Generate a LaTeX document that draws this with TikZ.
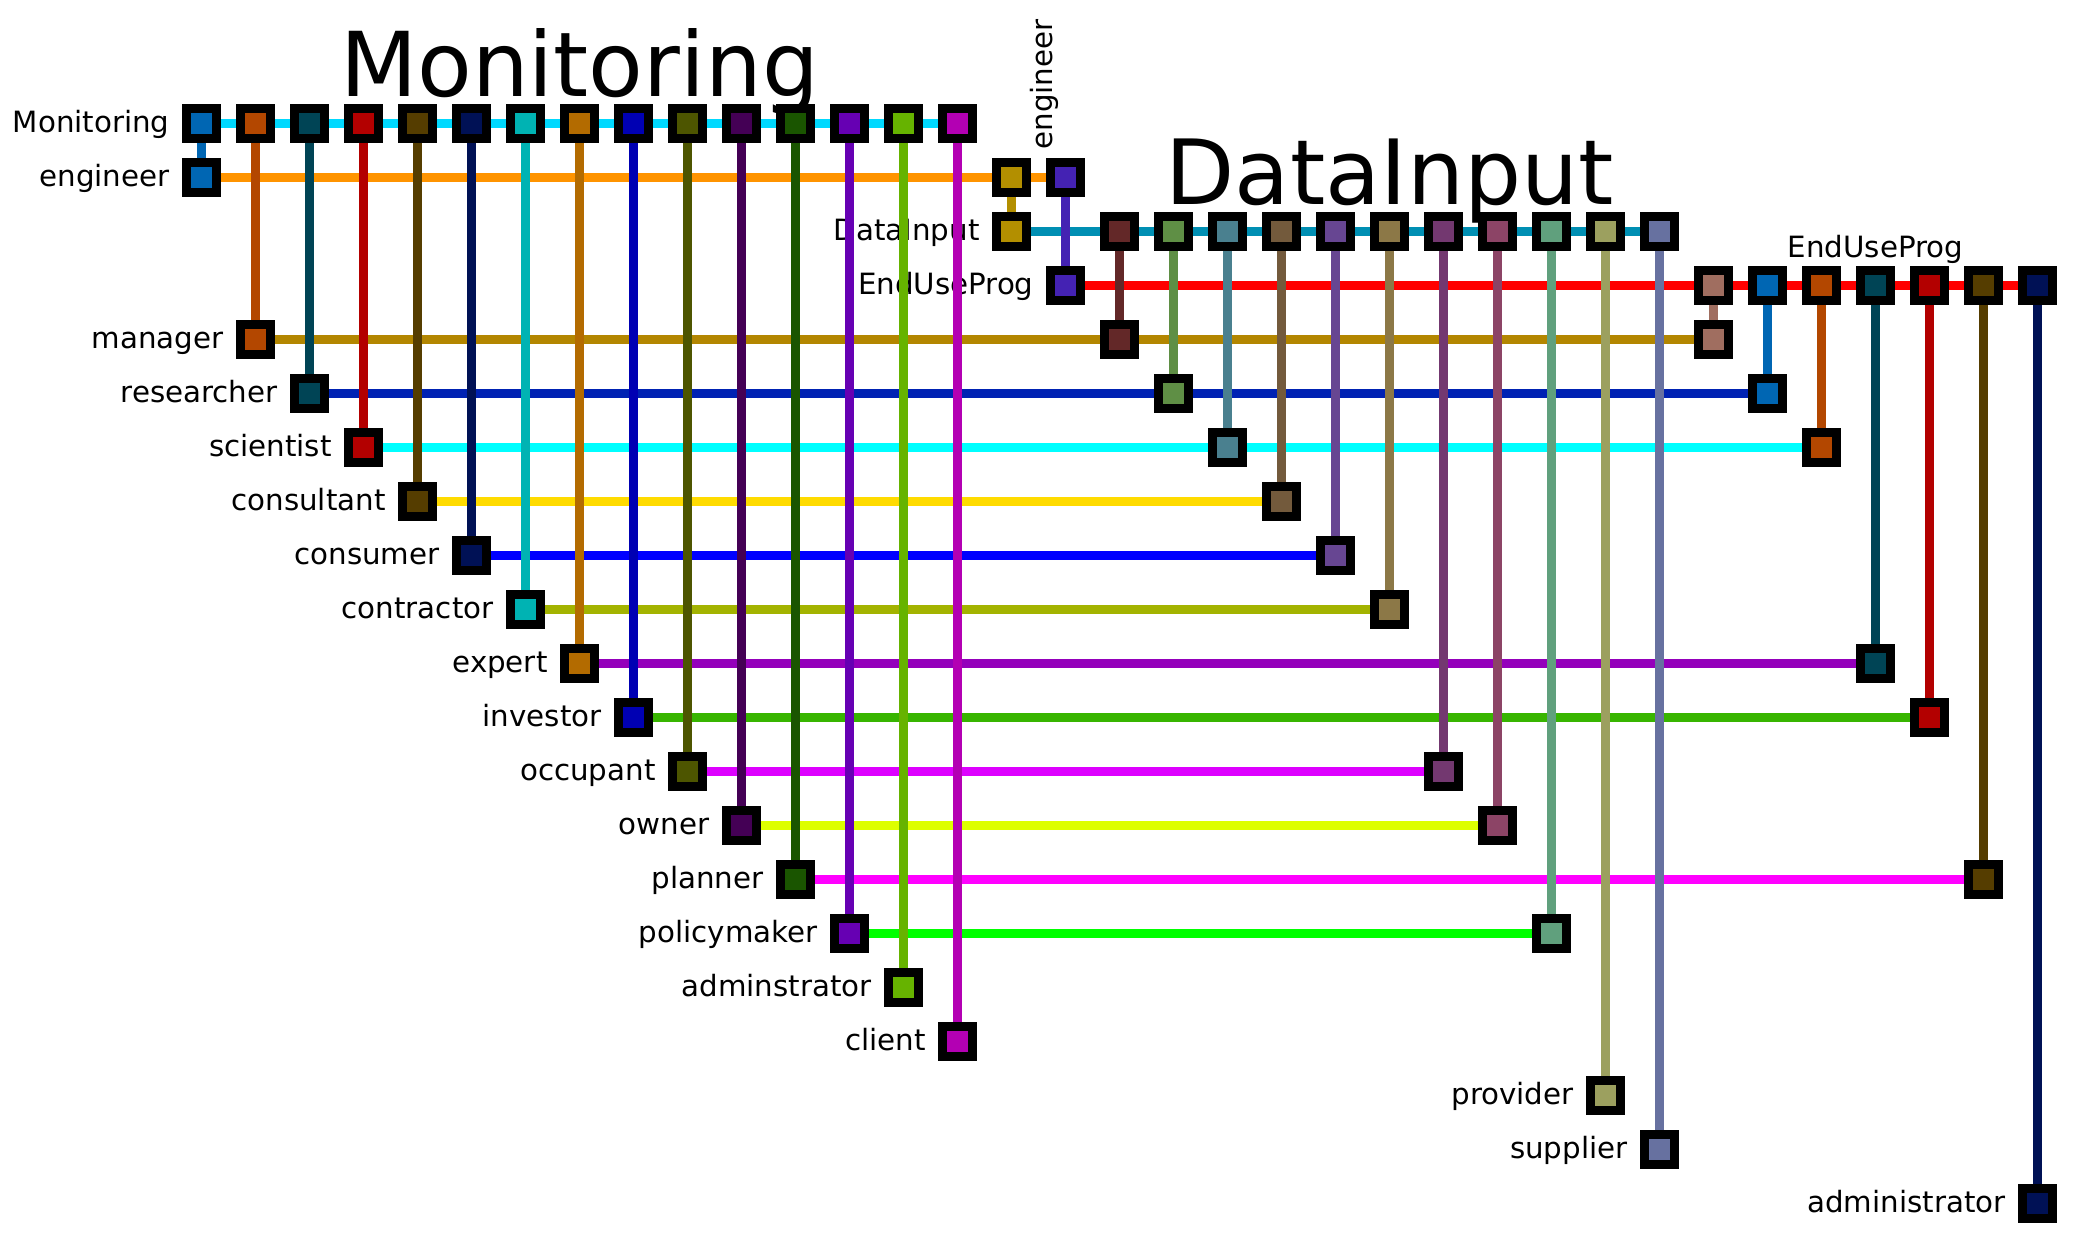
\documentclass[tikz,border=0pt]{standalone}
\usepackage{fontspec}
\setmainfont{DejaVu Sans}
\pgfdeclarelayer{txt}
\pgfdeclarelayer{hl}
\pgfdeclarelayer{vl}
\pgfsetlayers{txt,hl,vl,main}
\definecolor{k0}{HTML}{0066B3}
\definecolor{k1}{HTML}{B34700}
\definecolor{k2}{HTML}{004455}
\definecolor{k3}{HTML}{B30000}
\definecolor{k4}{HTML}{553D00}
\definecolor{k5}{HTML}{001155}
\definecolor{k6}{HTML}{00B3B3}
\definecolor{k7}{HTML}{B36B00}
\definecolor{k8}{HTML}{0000B3}
\definecolor{k9}{HTML}{4D5500}
\definecolor{k10}{HTML}{440055}
\definecolor{k11}{HTML}{1A5500}
\definecolor{k12}{HTML}{6600B3}
\definecolor{k13}{HTML}{66B300}
\definecolor{k14}{HTML}{B300B3}
\definecolor{kA}{HTML}{B38F00}
\definecolor{kB}{HTML}{4422B3}
\definecolor{d17}{HTML}{632828}
\definecolor{d18}{HTML}{5F8F45}
\definecolor{d19}{HTML}{4A808F}
\definecolor{d20}{HTML}{735A3C}
\definecolor{d21}{HTML}{674692}
\definecolor{d22}{HTML}{8C7847}
\definecolor{d23}{HTML}{733870}
\definecolor{d24}{HTML}{8C4466}
\definecolor{d25}{HTML}{60A07D}
\definecolor{d26}{HTML}{9CA05F}
\definecolor{d27}{HTML}{6771A0}
\definecolor{e28}{HTML}{A06E60}
\definecolor{hM}{HTML}{00D9FF}
\definecolor{hE}{HTML}{FF9400}
\definecolor{hD}{HTML}{008FB3}
\definecolor{hU}{HTML}{FF0000}
\definecolor{h4}{HTML}{B38600}
\definecolor{h5}{HTML}{0022B3}
\definecolor{h6}{HTML}{00FFFF}
\definecolor{h7}{HTML}{FFDB00}
\definecolor{h8}{HTML}{0000FF}
\definecolor{h9}{HTML}{A3B300}
\definecolor{h10}{HTML}{9400BB}
\definecolor{h11}{HTML}{38B500}
\definecolor{h12}{HTML}{DD00FF}
\definecolor{h13}{HTML}{DDFF00}
\definecolor{h14}{HTML}{FF00FF}
\definecolor{h15}{HTML}{00FF00}
\begin{document}
\begin{tikzpicture}[x=54bp,y=-54bp,
  box/.style={shape=rectangle,draw=black,line width=9bp,minimum size=30bp,inner sep=0pt,outer sep=0pt},
  lab/.style={inner sep=0pt,outer sep=0pt,anchor=base east,font=\fontsize{29.3bp}{36bp}\selectfont},
  ttl/.style={inner sep=0pt,outer sep=0pt,anchor=base},
  wire/.style={line width=9bp,line cap=butt}]
\useasboundingbox (-3.73148,-2.28704) rectangle (34.71296,20.60185);
% nodes
\foreach \i/\j/\c in {0/0/k0,1/0/k1,2/0/k2,3/0/k3,4/0/k4,5/0/k5,6/0/k6,7/0/k7,8/0/k8,9/0/k9,10/0/k10,11/0/k11,12/0/k12,13/0/k13,14/0/k14,
  0/1/k0,15/1/kA,16/1/kB,
  15/2/kA,17/2/d17,18/2/d18,19/2/d19,20/2/d20,21/2/d21,22/2/d22,23/2/d23,24/2/d24,25/2/d25,26/2/d26,27/2/d27,
  16/3/kB,28/3/e28,29/3/k0,30/3/k1,31/3/k2,32/3/k3,33/3/k4,34/3/k5,
  1/4/k1,17/4/d17,28/4/e28,
  2/5/k2,18/5/d18,29/5/k0,
  3/6/k3,19/6/d19,30/6/k1,
  4/7/k4,20/7/d20,
  5/8/k5,21/8/d21,
  6/9/k6,22/9/d22,
  7/10/k7,31/10/k2,
  8/11/k8,32/11/k3,
  9/12/k9,23/12/d23,
  10/13/k10,24/13/d24,
  11/14/k11,33/14/k4,
  12/15/k12,25/15/d25,
  13/16/k13,14/17/k14,26/18/d26,27/19/d27,34/20/k5}
  \node[box,fill=\c] (n-\i-\j) at (\i,\j) {};
% text
\begin{pgfonlayer}{txt}
\fill[white] (-3.73148,-2.28704) rectangle (34.71296,20.60185);
\node[ttl,font=\fontsize{89.5bp}{100bp}\selectfont] (t-mon) at ([yshift=27bp]7,0) {Monitoring};
\node[ttl,font=\fontsize{90bp}{100bp}\selectfont] (t-dat) at ([yshift=27bp]22,2) {DataInput};
\node[lab,anchor=base] (t-eup) at ([yshift=28.5bp]31,3) {EndUseProg};
\node[lab,anchor=base west,rotate=90] (t-eng) at (15.75,0.4815) {engineer};
\foreach \i/\j/\t in {0/0/Monitoring,0/1/engineer,15/2/DataInput,16/3/EndUseProg,1/4/manager,2/5/researcher,
  3/6/scientist,4/7/consultant,5/8/consumer,6/9/contractor,7/10/expert,8/11/investor,9/12/occupant,
  10/13/owner,11/14/planner,12/15/policymaker,13/16/adminstrator,14/17/client,26/18/provider,
  27/19/supplier,34/20/administrator}
  \node[lab] (l-\j) at ([xshift=-32bp,yshift=-9bp]n-\i-\j.center) {\t};
\end{pgfonlayer}
% horizontal connectors
\begin{pgfonlayer}{hl}
\foreach \j/\a/\b/\c in {0/0/14/hM,1/0/16/hE,2/15/27/hD,3/16/34/hU,4/1/28/h4,5/2/29/h5,6/3/30/h6,
  7/4/20/h7,8/5/21/h8,9/6/22/h9,10/7/31/h10,11/8/32/h11,12/9/23/h12,13/10/24/h13,14/11/33/h14,15/12/25/h15}
  \draw[wire,draw=\c] (n-\a-\j.center) -- (n-\b-\j.center);
\end{pgfonlayer}
% vertical connectors
\begin{pgfonlayer}{vl}
\foreach \i/\a/\b/\c in {0/0/1/k0,1/0/4/k1,2/0/5/k2,3/0/6/k3,4/0/7/k4,5/0/8/k5,6/0/9/k6,7/0/10/k7,
  8/0/11/k8,9/0/12/k9,10/0/13/k10,11/0/14/k11,12/0/15/k12,13/0/16/k13,14/0/17/k14,
  15/1/2/kA,16/1/3/kB,
  17/2/4/d17,18/2/5/d18,19/2/6/d19,20/2/7/d20,21/2/8/d21,22/2/9/d22,23/2/12/d23,24/2/13/d24,
  25/2/15/d25,26/2/18/d26,27/2/19/d27,
  28/3/4/e28,29/3/5/k0,30/3/6/k1,31/3/10/k2,32/3/11/k3,33/3/14/k4,34/3/20/k5}
  \draw[wire,draw=\c] (n-\i-\a.center) -- (n-\i-\b.center);
\end{pgfonlayer}
\end{tikzpicture}
\end{document}
